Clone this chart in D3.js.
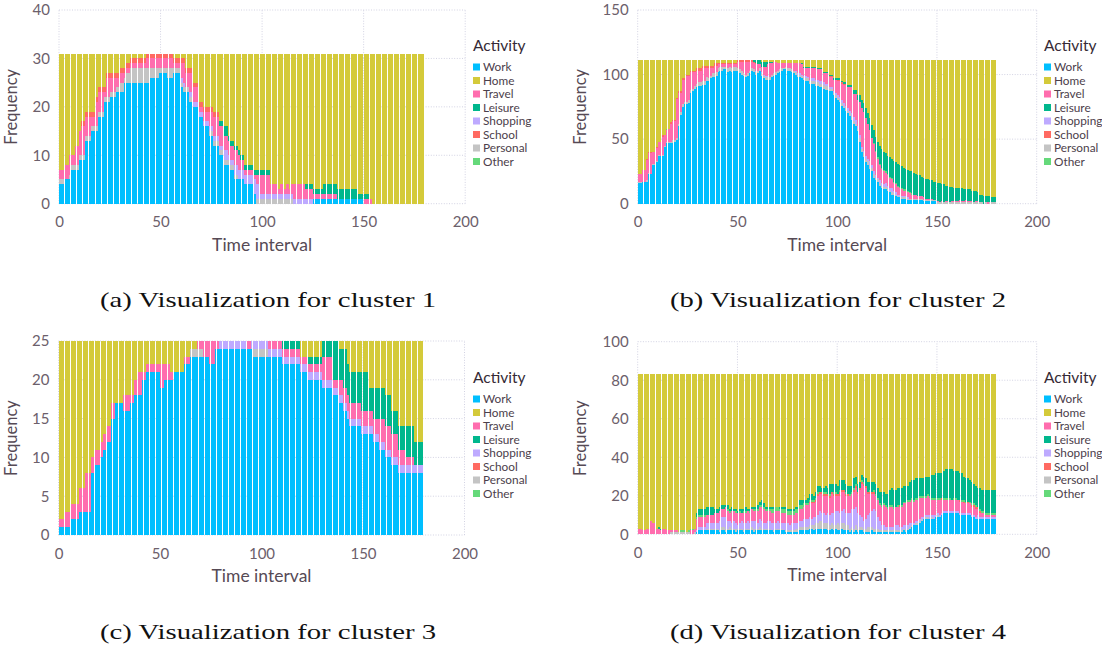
<!DOCTYPE html>
<html>
<head>
<meta charset="utf-8">
<script src="https://cdn.jsdelivr.net/npm/d3@7"></script>
<style>
  body { margin: 0; background: #fff; }
  svg text { font-family: Lato, "Noto Sans", sans-serif; }
</style>
</head>
<body>
<svg id="fig" width="1102" height="648"></svg>
<script>
// Activity categories, legend order and colours
const activities = ["Work", "Home", "Travel", "Leisure", "Shopping", "School", "Personal", "Other"];
const activityColors = ["#00BFFF", "#D4CA3A", "#FF6DAE", "#00B78D", "#BEAAFF", "#FF6A62", "#C4C4C4", "#65D97A"];
// bottom-to-top stacking order of the bars
const stackOrder = ["Work", "Personal", "Shopping", "Travel", "School", "Other", "Leisure", "Home"];

const timeTicks = [0, 50, 100, 150, 200];
const freqTicks1 = [0, 10, 20, 30, 40];
const freqTicks2 = [0, 50, 100, 150];
const freqTicks3 = [0, 5, 10, 15, 20, 25];
const freqTicks4 = [0, 20, 40, 60, 80, 100];
const clusterSizes = [31, 111, 25, 83];
const captions = [
  "(a) Visualization for cluster 1",
  "(b) Visualization for cluster 2",
  "(c) Visualization for cluster 3",
  "(d) Visualization for cluster 4"
];

// ---- cluster 1 : counts per time interval (0..179) ----
const c1Work = [
4,4,4,5,5,5,7,7,7,7,
9,9,9,13,13,13,15,15,15,18,
18,18,21,21,21,22,22,22,23,23,
23,23,25,25,25,25,25,25,25,25,
25,25,25,25,25,26,26,26,26,27,
27,27,27,26,26,26,27,27,27,27,
24,23,23,23,21,21,20,20,20,18,
18,16,16,16,14,14,12,12,12,10,
10,8,8,8,7,7,5,5,5,5,
5,4,4,4,4,4,2,0,0,0,
0,0,0,0,0,0,0,0,0,0,
0,0,0,0,0,0,0,0,0,0,
0,0,0,0,0,1,1,1,1,1,
1,1,1,1,1,1,1,1,1,1,
1,1,1,1,1,1,1,1,1,1,
0,0,0,0,0,0,0,0,0,0,
0,0,0,0,0,0,0,0,0,0,
0,0,0,0,0,0,0,0,0,0];
const c1Personal = [
1,1,1,0,0,1,1,1,1,1,
1,1,1,1,1,1,1,1,1,1,
1,1,1,1,1,1,1,1,1,1,
2,2,1,2,2,3,3,3,3,3,
3,3,3,3,3,2,2,2,2,1,
1,1,1,2,2,2,1,1,1,1,
1,1,1,1,1,1,0,0,0,0,
0,0,0,0,1,1,1,1,1,1,
1,1,1,1,1,1,1,1,0,0,
0,0,0,0,0,0,0,1,1,1,
1,1,1,1,1,1,1,1,1,1,
1,1,1,1,1,0,0,0,0,0,
0,0,0,0,0,0,0,0,0,0,
0,0,0,0,0,0,0,0,0,0,
0,0,0,0,0,0,0,0,0,0,
0,0,0,0,0,0,0,0,0,0,
0,0,0,0,0,0,0,0,0,0,
0,0,0,0,0,0,0,0,0,0];
const c1Shopping = [
0,0,0,0,0,0,0,0,0,0,
0,0,0,0,0,0,0,0,0,0,
0,0,0,0,0,0,0,0,0,0,
0,0,0,0,0,0,0,0,0,0,
0,0,0,0,0,0,0,0,0,0,
0,0,0,0,0,0,0,0,0,0,
1,1,0,0,1,1,1,1,1,1,
1,1,1,1,1,1,1,1,1,1,
1,2,2,1,1,1,2,2,2,2,
2,2,2,2,2,2,3,3,3,1,
1,1,1,1,1,1,1,1,1,1,
1,1,1,1,1,1,1,1,1,1,
1,1,1,1,1,0,0,0,0,0,
0,0,0,0,0,0,0,0,0,0,
0,0,0,0,0,0,0,0,0,0,
0,0,0,0,0,0,0,0,0,0,
0,0,0,0,0,0,0,0,0,0,
0,0,0,0,0,0,0,0,0,0];
const c1Travel = [
2,2,2,3,3,4,2,2,4,4,
5,6,6,4,4,4,2,2,5,4,
4,4,1,4,4,3,3,3,2,2,
2,2,1,1,1,1,1,1,1,1,
1,1,1,2,2,2,2,2,2,2,
2,2,2,2,2,2,1,1,1,1,
3,4,3,3,4,4,3,3,3,1,
1,2,2,2,3,3,4,4,4,4,
4,3,3,3,3,3,3,3,3,2,
2,1,1,1,1,1,1,2,2,4,
4,4,4,4,2,2,2,2,1,2,
2,1,2,1,2,3,3,3,3,3,
3,2,2,2,2,1,1,1,1,1,
1,1,1,1,1,1,1,0,0,0,
0,0,0,0,0,0,0,0,0,0,
1,1,1,1,0,0,0,0,0,0,
0,0,0,0,0,0,0,0,0,0,
0,0,0,0,0,0,0,0,0,0];
const c1School = [
0,0,0,0,0,0,0,0,0,0,
0,1,1,1,1,1,1,1,1,1,
1,1,1,1,1,1,1,1,1,1,
1,1,1,1,1,1,1,1,1,1,
1,1,1,1,1,1,1,1,1,1,
1,1,1,1,1,1,1,1,1,1,
1,1,1,1,1,1,1,1,1,1,
1,1,1,1,1,1,1,1,1,0,
0,0,0,0,0,0,0,0,0,0,
0,0,0,0,0,0,0,0,0,0,
0,0,0,0,0,0,0,0,0,0,
0,0,0,0,0,0,0,0,0,0,
0,0,0,0,0,0,0,0,0,0,
0,0,0,0,0,0,0,0,0,0,
0,0,0,0,0,0,0,0,0,0,
0,0,0,0,0,0,0,0,0,0,
0,0,0,0,0,0,0,0,0,0,
0,0,0,0,0,0,0,0,0,0];
const c1Other = [
0,0,0,0,0,0,0,0,0,0,
0,0,0,0,0,0,0,0,0,0,
0,0,0,0,0,0,0,0,0,0,
0,0,0,0,0,0,0,0,0,0,
0,0,0,0,0,0,0,0,0,0,
0,0,0,0,0,0,0,0,0,0,
0,0,0,0,0,0,0,0,0,0,
0,0,0,0,0,0,0,0,0,0,
0,0,0,0,0,0,0,0,0,0,
0,0,0,0,0,0,0,0,0,0,
0,0,0,0,0,0,0,0,0,0,
0,0,0,0,0,0,0,0,0,0,
0,0,0,0,0,0,0,0,0,0,
0,0,0,0,0,0,0,0,0,0,
0,0,0,0,0,0,0,0,0,0,
0,0,0,0,0,0,0,0,0,0,
0,0,0,0,0,0,0,0,0,0,
0,0,0,0,0,0,0,0,0,0];
const c1Leisure = [
0,0,0,0,0,0,0,0,0,0,
0,0,0,0,0,0,0,0,0,0,
0,0,0,0,0,0,0,0,0,0,
0,0,0,0,0,0,0,0,0,0,
0,0,0,0,0,0,0,0,0,0,
0,0,0,0,0,0,0,0,0,0,
0,0,0,0,0,0,0,0,0,0,
0,0,0,0,0,0,0,0,0,1,
1,2,2,1,1,1,1,1,1,1,
1,1,1,1,1,1,1,1,1,1,
1,1,1,1,0,0,0,0,0,0,
0,0,0,0,0,0,0,0,0,0,
0,1,1,1,1,1,1,1,1,1,
2,2,2,2,2,2,2,2,2,2,
2,2,2,2,2,2,2,1,1,1,
1,1,1,0,0,0,0,0,0,0,
0,0,0,0,0,0,0,0,0,0,
0,0,0,0,0,0,0,0,0,0];

// ---- cluster 2 ----
const c2Work = [
16,16,17,17,17,23,23,30,30,32,
37,37,37,44,47,47,47,47,48,49,
60,69,75,77,77,78,86,87,89,90,
91,91,92,92,95,95,97,98,98,99,
102,103,103,104,104,102,103,102,103,103,
103,101,100,99,98,99,101,103,102,100,
101,103,99,97,96,96,96,98,99,100,
101,102,103,104,104,103,103,102,101,100,
98,98,97,96,95,95,93,93,93,91,
91,90,90,89,88,88,87,87,84,82,
80,79,76,74,72,70,68,65,62,60,
56,48,40,36,32,30,27,25,20,18,
17,14,12,11,11,10,9,7,7,6,
5,5,4,4,4,3,3,3,3,3,
3,3,3,2,2,2,2,2,2,2,
0,0,0,0,0,0,0,0,0,0,
0,0,0,0,0,0,0,0,0,0,
0,0,0,0,0,0,0,0,0,0];
const c2Personal = [
1,1,0,0,1,1,0,1,1,1,
1,0,1,1,1,1,1,2,1,2,
2,2,2,2,2,2,2,2,2,3,
3,3,3,3,3,2,2,3,3,3,
3,3,3,2,2,3,3,3,3,3,
2,3,3,2,2,2,2,2,2,2,
2,2,2,2,2,2,2,2,2,2,
2,2,2,1,2,2,2,2,2,2,
2,2,2,2,2,2,2,2,2,3,
3,3,3,3,3,3,2,2,2,2,
2,2,2,2,2,2,2,2,2,2,
2,3,2,3,3,3,3,3,3,2,
2,2,2,2,2,2,1,2,1,1,
1,1,1,1,1,1,1,1,1,1,
1,1,1,1,1,1,1,1,1,1,
1,1,1,1,1,1,1,1,1,1,
1,1,1,1,1,1,1,1,1,1,
1,1,1,0,1,0,1,1,1,1];
const c2Shopping = [
0,0,0,0,0,0,0,0,0,0,
0,0,0,0,0,0,0,0,0,0,
0,0,0,0,0,0,0,0,0,0,
0,0,0,0,0,0,0,0,0,0,
0,0,0,0,0,0,0,0,0,0,
0,0,0,0,0,0,0,0,0,1,
0,0,1,1,1,1,0,0,0,0,
0,0,0,0,0,0,0,0,0,1,
1,1,1,1,2,1,1,2,2,2,
2,2,2,2,2,2,1,1,1,2,
2,2,2,2,2,2,2,3,3,3,
2,2,2,2,2,2,3,2,2,2,
1,2,2,2,3,2,2,3,2,2,
1,1,1,1,1,1,0,0,0,0,
0,0,0,0,0,0,0,0,0,0,
0,0,0,0,0,0,0,0,0,0,
0,0,0,0,0,0,0,0,0,0,
0,0,0,0,0,0,0,0,0,0];
const c2Travel = [
6,6,9,9,16,15,16,9,9,10,
10,11,14,8,9,10,14,15,15,30,
24,15,19,17,20,19,14,13,11,10,
9,9,10,10,7,8,6,4,6,5,
3,2,2,2,2,3,2,3,2,2,
5,6,7,9,10,9,7,5,5,5,
5,3,4,6,7,9,11,9,9,8,
6,5,4,4,3,4,4,5,6,6,
8,8,8,6,6,7,9,8,8,9,
8,9,9,7,8,8,8,8,9,10,
11,12,13,14,16,16,18,20,18,20,
20,26,30,30,29,27,24,21,21,18,
15,12,11,10,8,8,8,7,6,6,
6,5,5,4,4,4,4,3,3,3,
2,2,2,2,1,1,1,1,0,0,
1,0,1,0,1,1,0,1,1,1,
1,2,1,1,2,1,1,1,0,1,
1,0,0,0,0,1,0,0,0,0];
const c2School = [
0,0,0,0,1,1,1,0,0,1,
0,0,1,0,0,0,1,1,1,1,
1,1,1,1,1,1,1,1,1,2,
2,2,2,2,2,2,2,2,2,2,
1,1,1,1,1,1,1,1,1,1,
1,1,1,1,1,1,1,1,1,1,
0,0,0,0,0,0,0,0,0,0,
0,0,0,0,0,0,0,0,0,0,
0,0,0,0,0,0,0,0,0,0,
0,0,0,0,0,0,1,1,0,0,
1,1,1,1,1,0,0,0,0,0,
0,0,0,0,0,0,0,0,0,0,
0,0,0,0,0,0,0,0,0,0,
0,0,0,0,0,0,0,0,0,0,
0,0,0,0,0,0,0,0,0,0,
0,0,0,0,0,0,0,0,0,0,
0,0,0,0,0,0,0,0,0,0,
0,0,0,0,0,0,0,0,0,0];
const c2Other = [
0,0,0,0,0,0,0,0,0,0,
0,0,0,0,1,0,0,0,0,0,
0,0,0,0,0,0,0,0,0,0,
0,0,0,0,0,0,0,0,0,0,
0,0,0,0,0,0,0,0,0,0,
0,0,0,0,0,0,0,0,0,0,
0,0,0,0,0,0,0,0,0,0,
0,0,0,0,0,0,0,0,0,0,
0,0,0,0,0,0,0,0,0,0,
0,0,0,0,0,0,0,0,0,0,
0,0,0,0,0,0,0,0,0,0,
0,0,0,0,0,0,0,0,1,1,
1,1,1,1,1,1,1,1,1,1,
1,1,1,1,1,1,1,1,0,0,
0,0,0,0,0,0,0,0,0,0,
0,0,0,0,0,0,0,0,0,0,
0,0,0,0,0,0,0,0,0,0,
0,0,0,0,0,0,0,0,0,0];
const c2Leisure = [
0,0,0,0,0,0,0,0,0,0,
0,0,0,0,0,0,0,0,0,0,
0,0,0,0,0,0,0,0,0,0,
0,0,0,0,0,0,0,0,0,0,
0,0,0,0,0,0,0,0,0,0,
0,0,0,0,0,0,0,0,1,2,
3,3,4,4,4,2,1,1,0,0,
0,0,0,0,0,0,0,0,0,0,
0,0,1,1,1,1,1,1,1,1,
1,1,1,1,1,1,1,1,1,1,
1,1,1,1,1,2,2,2,3,3,
4,5,6,7,8,8,9,10,10,11,
12,14,14,14,14,14,15,15,16,16,
17,17,17,17,16,16,16,17,17,16,
16,16,15,15,15,15,14,14,14,14,
14,15,13,14,12,12,12,11,10,10,
10,9,10,9,8,9,9,8,9,8,
7,6,6,6,5,5,5,4,4,4];

// ---- cluster 3 ----
const c3Work = [
1,1,1,1,1,1,2,2,2,2,
3,3,3,3,3,3,8,8,9,9,
9,10,11,11,12,12,15,15,17,17,
17,17,16,16,16,17,17,18,18,18,
18,20,20,21,21,21,21,21,21,21,
19,19,20,20,20,20,20,21,21,21,
21,21,22,22,22,23,23,23,23,23,
23,23,23,23,22,22,22,24,24,24,
24,24,24,24,24,24,24,24,24,24,
24,24,24,24,24,24,23,23,23,23,
23,23,23,23,23,23,23,23,23,23,
22,22,22,22,22,22,22,22,22,21,
21,21,21,20,20,20,20,20,20,20,
19,19,19,19,19,18,18,18,17,17,
16,16,15,14,14,14,14,14,14,13,
13,13,13,13,13,12,12,12,11,11,
11,10,10,10,9,9,9,8,8,8,
8,8,8,8,8,8,8,8,8,8];
const c3Personal = [
0,0,0,0,0,0,0,0,0,0,
0,0,0,0,0,0,0,0,0,0,
0,0,0,0,0,0,0,0,0,0,
0,0,0,0,0,0,0,0,0,0,
0,0,0,0,0,0,0,0,0,0,
0,0,0,0,0,0,0,0,0,0,
0,0,0,0,0,1,1,1,1,1,
1,0,0,0,0,0,0,0,0,0,
0,0,0,0,0,0,0,0,0,0,
0,0,0,0,0,0,1,1,1,1,
1,1,1,0,0,0,0,0,0,0,
0,0,0,0,0,0,0,0,0,0,
0,0,0,0,0,0,0,0,0,0,
0,0,0,0,0,0,0,0,0,0,
0,0,0,0,0,0,0,0,0,0,
0,0,0,0,0,0,0,0,0,0,
0,0,0,0,0,0,0,0,0,0,
0,0,0,0,0,0,0,0,0,0];
const c3Shopping = [
0,0,0,0,0,0,0,0,0,0,
0,0,0,0,0,0,0,0,0,0,
0,0,0,0,0,0,0,0,0,0,
0,0,0,0,0,0,0,0,0,0,
0,0,0,0,0,0,0,0,0,0,
0,0,0,0,0,0,0,0,0,0,
0,0,0,0,0,0,0,0,0,0,
0,0,0,0,0,0,0,0,0,1,
1,1,1,1,1,1,1,1,1,1,
1,1,1,0,0,1,1,1,1,1,
1,1,1,1,1,1,1,1,1,1,
1,1,1,1,1,1,1,1,1,1,
1,1,1,1,1,1,1,1,1,1,
1,1,1,1,1,1,1,1,1,1,
1,1,1,1,1,1,1,1,1,1,
1,1,1,1,1,1,1,1,1,1,
1,1,1,1,1,1,1,1,1,1,
1,1,1,1,1,1,1,1,1,1];
const c3Travel = [
1,1,1,2,2,2,2,2,2,2,
3,3,3,5,5,5,2,2,2,2,
2,2,2,2,2,2,2,2,0,0,
0,0,2,2,2,1,1,2,2,3,
3,1,1,1,1,1,1,1,1,1,
3,3,2,2,2,1,1,0,0,0,
0,0,1,1,1,0,0,0,1,1,
1,2,2,2,3,3,3,1,1,0,
0,0,0,0,0,0,0,0,0,0,
0,0,0,1,1,0,0,0,0,0,
0,0,0,1,1,1,1,1,1,1,
1,1,1,1,1,1,1,1,1,1,
1,1,1,1,1,1,1,1,1,1,
3,3,3,3,3,1,1,1,2,2,
2,2,2,2,2,2,2,2,2,2,
2,2,2,2,2,2,2,2,3,3,
3,3,3,3,3,3,3,2,2,2,
2,1,1,1,1,0,0,0,0,0];
const c3School = [
0,0,0,0,0,0,0,0,0,0,
0,0,0,0,0,0,0,0,0,0,
0,0,0,0,0,0,0,0,0,0,
0,0,0,0,0,0,0,0,0,0,
0,0,0,0,0,0,0,0,0,0,
0,0,0,0,0,0,0,0,0,0,
0,0,0,0,0,0,0,0,0,0,
0,0,0,0,0,0,0,0,0,0,
0,0,0,0,0,0,0,0,0,0,
0,0,0,0,0,0,0,0,0,0,
0,0,0,0,0,0,0,0,0,0,
0,0,0,0,0,0,0,0,0,0,
0,0,0,0,0,0,0,0,0,0,
0,0,0,0,0,0,0,0,0,0,
0,0,0,0,0,0,0,0,0,0,
0,0,0,0,0,0,0,0,0,0,
0,0,0,0,0,0,0,0,0,0,
0,0,0,0,0,0,0,0,0,0];
const c3Other = [
0,0,0,0,0,0,0,0,0,0,
0,0,0,0,0,0,0,0,0,0,
0,0,0,0,0,0,0,0,0,0,
0,0,0,0,0,0,0,0,0,0,
0,0,0,0,0,0,0,0,0,0,
0,0,0,0,0,0,0,0,0,0,
0,0,0,0,0,0,0,0,0,0,
0,0,0,0,0,0,0,0,0,0,
0,0,0,0,0,0,0,0,0,0,
0,0,0,0,0,0,0,0,0,0,
0,0,0,0,0,0,0,0,0,0,
0,0,0,0,0,0,0,0,0,0,
0,0,0,0,0,0,0,0,0,0,
0,0,0,0,0,0,0,0,0,0,
0,0,0,0,0,0,0,0,0,0,
0,0,0,0,0,0,0,0,0,0,
0,0,0,0,0,0,0,0,0,0,
0,0,0,0,0,0,0,0,0,0];
const c3Leisure = [
0,0,0,0,0,0,0,0,0,0,
0,0,0,0,0,0,0,0,0,0,
0,0,0,0,0,0,0,0,0,0,
0,0,0,0,0,0,0,0,0,0,
0,0,0,0,0,0,0,0,0,0,
0,0,0,0,0,0,0,0,0,0,
0,0,0,0,0,0,0,0,0,0,
0,0,0,0,0,0,0,0,0,0,
0,0,0,0,0,0,0,0,0,0,
0,0,0,0,0,0,0,0,0,0,
0,0,0,0,0,0,0,0,0,0,
1,1,1,1,1,1,1,1,1,0,
0,0,0,1,1,1,1,1,1,1,
2,2,2,2,2,5,5,5,4,4,
5,5,4,4,4,4,4,4,4,5,
5,5,5,3,3,4,4,4,4,4,
4,4,4,4,3,3,3,3,3,3,
3,4,4,4,4,3,3,3,3,3];

// ---- cluster 4 ----
const c4Work = [
0,0,0,0,0,0,0,0,0,0,
0,0,0,0,0,0,0,0,0,0,
0,0,0,0,0,0,0,0,0,1,
2,2,2,2,2,2,2,2,2,2,
2,1,2,2,1,2,2,2,2,1,
2,2,2,1,2,2,2,2,1,2,
2,2,2,2,2,2,2,2,1,2,
2,2,2,2,1,1,1,1,1,1,
1,2,2,2,2,2,3,3,2,3,
3,3,3,3,3,2,2,3,2,3,
2,2,3,2,2,2,1,2,1,2,
1,2,2,1,1,1,1,2,1,1,
1,1,1,1,1,1,1,1,1,1,
1,1,1,2,1,2,3,4,5,5,
5,6,7,8,8,8,8,8,8,9,
9,9,10,11,11,11,11,11,11,11,
11,10,10,10,10,10,10,9,9,8,
8,8,8,8,8,8,8,8,8,8];
const c4Personal = [
0,0,0,0,0,0,0,0,0,0,
0,0,0,0,0,0,1,1,1,1,
1,1,1,1,1,1,0,0,1,0,
0,0,0,0,1,1,1,1,1,1,
1,1,2,2,2,1,2,1,1,2,
1,1,1,1,1,1,1,2,2,1,
1,2,1,1,1,1,1,0,1,1,
1,1,1,0,1,1,1,1,1,2,
2,2,2,2,2,2,2,2,3,3,
3,4,4,3,3,4,3,3,3,2,
4,3,3,4,3,3,2,2,2,3,
2,2,2,2,2,3,3,2,2,2,
2,1,1,1,1,1,1,1,1,1,
1,1,1,1,1,1,1,1,0,1,
1,1,1,0,1,1,0,1,0,0,
1,0,0,0,0,0,0,0,0,0,
0,0,0,0,0,0,0,0,0,0,
0,0,0,0,0,0,0,0,0,0];
const c4Shopping = [
0,0,0,0,0,0,0,0,0,0,
0,0,0,0,0,0,0,0,0,0,
0,0,0,0,0,0,0,0,0,1,
2,2,2,2,3,3,3,3,3,3,
3,5,5,5,6,4,3,3,4,3,
2,3,4,4,3,4,3,3,4,4,
3,4,4,3,3,4,4,4,4,3,
4,3,3,4,4,4,3,4,4,3,
3,3,3,4,4,4,4,3,4,3,
4,5,4,5,4,5,5,5,6,7,
6,6,6,7,6,6,8,9,10,9,
8,6,5,4,5,6,7,8,10,9,
6,5,3,3,2,2,2,2,2,3,
3,2,2,2,3,2,2,1,1,1,
1,1,1,1,1,1,2,1,2,1,
1,1,1,1,1,1,1,1,1,1,
1,1,1,1,1,1,1,1,1,1,
2,1,1,1,1,1,1,1,1,1];
const c4Travel = [
3,3,2,2,3,3,7,6,6,3,
3,2,3,3,2,2,1,1,1,1,
0,0,0,0,0,0,2,2,2,6,
5,5,5,5,4,4,4,4,5,5,
5,5,4,4,5,5,4,6,5,5,
6,5,4,5,5,5,5,6,5,5,
6,6,7,7,6,5,5,5,5,6,
5,6,5,5,5,4,5,4,4,5,
5,6,6,6,7,7,7,8,7,8,
10,9,10,9,10,9,9,10,9,8,
8,9,10,9,9,9,9,8,9,10,
10,13,17,18,16,11,10,9,8,8,
9,8,9,10,10,9,10,10,9,9,
9,10,10,11,11,12,11,12,11,11,
11,11,10,10,9,10,9,8,8,8,
7,8,7,6,6,6,6,6,6,6,
6,6,6,5,5,5,5,4,4,4,
3,2,2,2,1,1,1,1,1,1];
const c4School = [
0,0,0,0,0,0,0,0,0,0,
0,0,0,0,0,0,0,0,0,0,
0,0,0,0,0,0,0,0,0,0,
0,0,0,0,0,0,0,0,0,0,
0,0,0,0,0,0,0,0,0,0,
0,0,0,0,0,0,0,0,0,0,
0,0,0,0,0,0,0,0,0,0,
0,0,0,0,0,0,0,0,0,0,
0,0,0,0,0,0,1,1,1,1,
1,1,1,1,1,1,1,1,1,1,
1,2,1,1,1,1,0,0,1,1,
1,1,1,1,1,1,1,1,1,0,
0,0,0,0,0,0,0,0,0,0,
0,1,0,0,0,0,0,0,0,0,
0,0,0,0,0,0,0,0,0,0,
0,0,1,0,0,0,0,0,0,0,
0,1,0,1,0,1,0,1,1,1,
1,1,0,0,0,0,0,0,0,0];
const c4Other = [
0,0,0,0,0,0,0,0,0,0,
0,0,0,0,0,0,0,0,0,0,
0,1,1,1,0,1,1,1,0,1,
1,1,1,1,0,0,0,0,0,0,
0,0,0,0,0,1,1,0,0,1,
0,1,0,1,1,0,1,0,1,1,
1,1,1,1,1,1,1,2,2,2,
2,1,2,2,2,2,2,2,2,2,
2,2,2,2,1,1,1,1,1,1,
1,0,0,1,1,0,1,0,1,1,
0,1,0,0,1,0,1,1,1,1,
0,0,1,1,0,0,1,0,1,1,
1,1,1,1,1,1,1,1,1,0,
1,0,1,1,1,1,1,1,1,1,
1,1,1,1,1,1,1,1,1,1,
1,1,0,1,1,1,1,0,1,1,
0,0,1,1,1,0,1,1,1,1,
0,1,1,1,1,1,1,1,1,1];
const c4Leisure = [
0,0,0,0,0,0,0,0,0,0,
1,1,0,0,0,0,0,0,0,0,
0,0,0,0,0,0,0,0,0,2,
3,3,3,3,4,4,4,4,2,2,
2,2,2,2,1,2,1,2,1,1,
1,1,2,1,2,1,1,1,1,1,
2,2,3,2,1,1,1,1,1,0,
0,1,1,1,1,1,1,1,1,1,
1,3,3,2,2,3,3,3,2,3,
3,3,2,2,3,3,5,4,4,4,
4,5,5,5,4,4,4,3,5,4,
4,3,3,3,4,5,4,5,4,5,
5,6,7,6,6,7,8,9,9,9,
9,9,9,8,8,7,9,9,10,10,
10,9,9,9,10,9,10,12,12,13,
13,13,13,14,15,15,15,16,14,14,
15,14,14,12,12,12,11,11,10,10,
10,11,11,11,12,12,12,12,12,12];

const clusterSeries = [
  { Work: c1Work, Personal: c1Personal, Shopping: c1Shopping, Travel: c1Travel, School: c1School, Other: c1Other, Leisure: c1Leisure },
  { Work: c2Work, Personal: c2Personal, Shopping: c2Shopping, Travel: c2Travel, School: c2School, Other: c2Other, Leisure: c2Leisure },
  { Work: c3Work, Personal: c3Personal, Shopping: c3Shopping, Travel: c3Travel, School: c3School, Other: c3Other, Leisure: c3Leisure },
  { Work: c4Work, Personal: c4Personal, Shopping: c4Shopping, Travel: c4Travel, School: c4School, Other: c4Other, Leisure: c4Leisure }
];
const freqTicks = [freqTicks1, freqTicks2, freqTicks3, freqTicks4];

// panel placement on the page
const panels = [
  { left: 59,    right: 465.2,  top: 10,    bottom: 203.7, legendX: 473,  legendY: 51,  capX: 268, capY: 307, labelX: 16.5 },
  { left: 637.7, right: 1036.7, top: 10,    bottom: 203.7, legendX: 1044, legendY: 51,  capX: 838, capY: 307, labelX: 586 },
  { left: 58.5,  right: 464.5,  top: 341,   bottom: 535,   legendX: 473,  legendY: 383, capX: 268, capY: 639, labelX: 16.5 },
  { left: 637.7, right: 1036.7, top: 341.7, bottom: 534.3, legendX: 1044, legendY: 383, capX: 838, capY: 639, labelX: 586 }
];

const color = d3.scaleOrdinal().domain(activities).range(activityColors);
const svg = d3.select("#fig");
const tickColor = "#6c606b";
const gridColor = "#d2d2e2";

panels.forEach((P, i) => {
  const ticks = freqTicks[i];
  const yMax = ticks[ticks.length - 1];
  const x = d3.scaleLinear().domain([0, 200]).range([P.left, P.right]);
  const y = d3.scaleLinear().domain([0, yMax]).range([P.bottom, P.top]);
  const g = svg.append("g");

  // dotted grid
  g.append("g").selectAll("line").data(ticks).join("line")
    .attr("x1", x(0)).attr("x2", x(200))
    .attr("y1", d => y(d)).attr("y2", d => y(d))
    .attr("stroke", gridColor).attr("stroke-width", 1).attr("stroke-dasharray", "1,1.6");
  g.append("g").selectAll("line").data(timeTicks).join("line")
    .attr("x1", d => x(d)).attr("x2", d => x(d))
    .attr("y1", y(0)).attr("y2", y(yMax))
    .attr("stroke", gridColor).attr("stroke-width", 1).attr("stroke-dasharray", "1,1.6");

  // stacked bars, one per time interval
  const S = clusterSeries[i];
  const rows = S.Work.map((w, t) => {
    const r = { t: t };
    let used = 0;
    stackOrder.forEach(k => { if (k !== "Home") { r[k] = S[k][t]; used += S[k][t]; } });
    r.Home = clusterSizes[i] - used;
    return r;
  });
  const stacked = d3.stack().keys(stackOrder)(rows);
  // bars snap to whole pixels; a thin white seam shows after every third interval
  const px0 = t => Math.round(x(t));
  const px1 = t => Math.round(x(t + 1)) - (t % 3 === 2 ? 1 : 0);
  g.append("g").attr("shape-rendering", "crispEdges")
    .selectAll("g").data(stacked).join("g")
    .attr("fill", d => color(d.key))
    .selectAll("rect").data(d => d.filter(s => s[1] > s[0])).join("rect")
    .attr("x", s => px0(s.data.t))
    .attr("width", s => px1(s.data.t) - px0(s.data.t))
    .attr("y", s => y(s[1]))
    .attr("height", s => y(s[0]) - y(s[1]));

  // axes
  const xa = g.append("g").attr("transform", `translate(0,${P.bottom})`)
    .call(d3.axisBottom(x).tickValues(timeTicks).tickSize(0).tickPadding(13));
  xa.select(".domain").remove();
  xa.selectAll("text").attr("fill", tickColor).style("font-size", "15px")
    .style("font-family", 'Lato, "Noto Sans", sans-serif');

  const ya = g.append("g").attr("transform", `translate(${P.left},0)`)
    .call(d3.axisLeft(y).tickValues(ticks).tickSize(0).tickPadding(9));
  ya.select(".domain").remove();
  ya.selectAll("text").attr("fill", tickColor).style("font-size", "15px")
    .style("font-family", 'Lato, "Noto Sans", sans-serif');

  g.append("text")
    .attr("x", (x(0) + x(200)) / 2).attr("y", P.bottom + 47)
    .attr("text-anchor", "middle").attr("fill", "#564a55").style("font-size", "17.5px")
    .text("Time interval");
  g.append("text")
    .attr("transform", `translate(${P.labelX},${(P.top + P.bottom) / 2}) rotate(-90)`)
    .attr("text-anchor", "middle").attr("fill", "#564a55").style("font-size", "16.5px")
    .text("Frequency");

  // legend
  const lg = g.append("g").attr("transform", `translate(${P.legendX},${P.legendY})`);
  lg.append("text").attr("x", 0).attr("y", 0).attr("fill", "#362a35").style("font-size", "15.5px").text("Activity");
  const item = lg.selectAll("g.item").data(activities).join("g")
    .attr("class", "item")
    .attr("transform", (d, k) => `translate(0,${16 + k * 13.5})`);
  item.append("rect").attr("x", 0).attr("y", -3.5).attr("width", 7).attr("height", 7)
    .attr("fill", d => color(d));
  item.append("text").attr("x", 10).attr("y", 4).attr("fill", "#4c404b")
    .style("font-size", "11.8px").text(d => d);

  // caption
  svg.append("text")
    .attr("x", P.capX).attr("y", P.capY)
    .attr("text-anchor", "middle")
    .attr("textLength", 336).attr("lengthAdjust", "spacingAndGlyphs")
    .style("font-family", '"Liberation Serif", "DejaVu Serif", serif')
    .style("font-size", "22px").attr("fill", "#111")
    .text(captions[i]);
});
</script>
</body>
</html>
